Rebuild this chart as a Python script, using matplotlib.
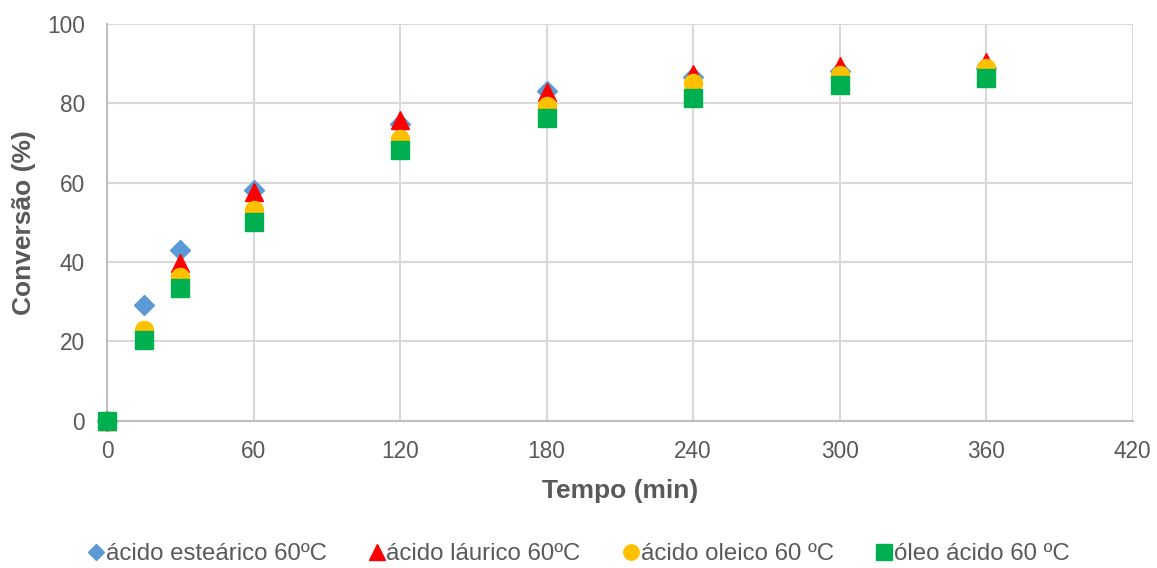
import matplotlib
matplotlib.use("Agg")
import matplotlib.pyplot as plt

plt.rcParams['font.family'] = ['Liberation Sans', 'DejaVu Sans']

tempo = [0, 15, 30, 60, 120, 180, 240, 300, 360]
estearico = [0, 29.3, 43.1, 58.2, 74.8, 83.0, 86.7, 88.0, 89.0]
laurico = [0, 22.0, 39.8, 57.7, 75.8, 82.9, 87.4, 89.4, 90.4]
oleico = [0, 22.9, 36.3, 53.1, 71.1, 79.2, 85.0, 87.2, 88.9]
oleo = [0, 20.4, 33.5, 50.2, 68.3, 76.2, 81.3, 84.6, 86.3]

labels = ['ácido esteárico 60ºC', 'ácido láurico 60ºC', 'ácido oleico 60 ºC', 'óleo ácido 60 ºC']
xticks = [0, 60, 120, 180, 240, 300, 360, 420]
yticks = [0, 20, 40, 60, 80, 100]

fig = plt.figure(figsize=(11.57, 5.68), dpi=100)
ax = fig.add_axes([0.0925, 0.259, 0.979 - 0.0925, 0.958 - 0.259])

ax.plot(tempo, estearico, linestyle='none', marker='D', markersize=10, color='#5B9BD5', label=labels[0], zorder=3, clip_on=False)
ax.plot(tempo, laurico, linestyle='none', marker='^', markersize=13, color='#FF0000', label=labels[1], zorder=4, clip_on=False)
ax.plot(tempo, oleico, linestyle='none', marker='o', markersize=13, color='#FFC000', label=labels[2], zorder=5, clip_on=False)
ax.plot(tempo, oleo, linestyle='none', marker='s', markersize=13, color='#00B050', label=labels[3], zorder=6, clip_on=False)

ax.set_xlim(0, 420)
ax.set_ylim(0, 100)
ax.set_xticks(xticks)
ax.set_yticks(yticks)
ax.grid(True, color='#d9d9d9', linewidth=1.5)
ax.set_axisbelow(True)
for s in ['top', 'right']:
    ax.spines[s].set_visible(False)
for s in ['left', 'bottom']:
    ax.spines[s].set_color('#bfbfbf')
    ax.spines[s].set_linewidth(1.5)
ax.tick_params(length=0, labelsize=16.3, colors='#595959')
ax.tick_params(axis='x', pad=14)
ax.tick_params(axis='y', pad=16)
ax.set_xlabel('Tempo (min)', fontsize=19, fontweight='bold', color='#595959', labelpad=11)
ax.set_ylabel('Conversão (%)', fontsize=19, fontweight='bold', color='#595959', labelpad=8)

leg = fig.legend(loc='center', bbox_to_anchor=(0.4995, 0.024), ncol=4, frameon=False,
                 fontsize=17.3, handletextpad=0.0, columnspacing=1.7, markerscale=0.85,
                 handlelength=0.8)
for t in leg.get_texts():
    t.set_color('#595959')

fig.savefig('out.png', dpi=100)
